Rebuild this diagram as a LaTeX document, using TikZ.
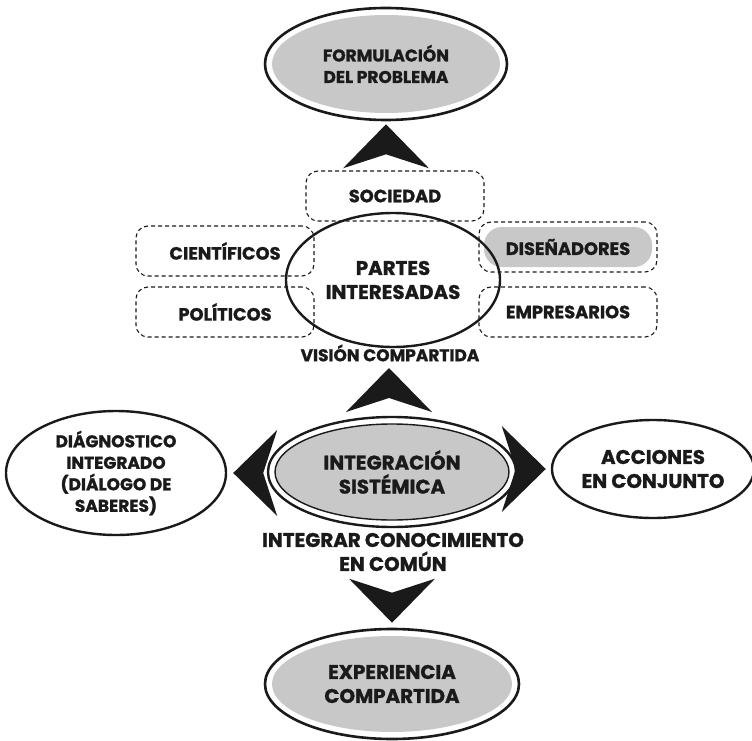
\documentclass[tikz,border=0pt]{standalone}
\usepackage{fontspec}
\setmainfont{Poppins}[BoldFeatures={FakeBold=1.2}]
\usetikzlibrary{shapes.geometric}
\definecolor{fillGray}{RGB}{200,200,200}
\definecolor{inkBlack}{RGB}{26,26,26}

\begin{document}
\begin{tikzpicture}
[x=1pt,y=-1pt,
  textDecorate/.style={font=\fontsize{17}{21.5}\selectfont\bfseries,text=inkBlack,align=center},
  bigText/.style={font=\fontsize{19.8}{24}\selectfont\bfseries},
  ringDecorate/.style={shape=ellipse,draw=inkBlack,line width=2.6pt,fill=white,inner sep=0pt},
  coreDecorate/.style={shape=ellipse,fill=fillGray,inner sep=0pt,textDecorate},
  ellipseDecorate/.style={shape=ellipse,draw=inkBlack,line width=2.4pt,inner sep=0pt,textDecorate},
  boxDecorate/.style={shape=rectangle,draw=inkBlack,dash pattern=on 4pt off 3pt,line width=1.1pt,
    rounded corners=12pt,minimum width=178pt,minimum height=50pt,textDecorate,
    font=\fontsize{17.8}{21}\selectfont\bfseries},
  chevron/.pic={\fill[inkBlack] (0,0) -- (43,44) -- (0,30) -- (-43,44) -- cycle;}]
\useasboundingbox (0,0) rectangle (752,741);
%% dashed boxes
\node (disenadoresFill) at (568,247) [fill=fillGray,rounded corners=18pt,
  minimum width=168pt,minimum height=40pt] {};
\foreach \nodename/\x/\y/\boxtext in {
  sociedad/395/196/SOCIEDAD, cientificos/225/251/CIENTÍFICOS,
  politicos/225/312/POLÍTICOS, disenadores/568/247/DISEÑADORES,
  empresarios/568/312/EMPRESARIOS}
{
  \node (\nodename) at (\x,\y) [boxDecorate] {\boxtext};
}
%% ellipses
\node (formulacionRing) at (386,64) [ringDecorate,minimum width=242pt,minimum height=112pt] {};
\node (formulacion) at (formulacionRing) [coreDecorate,minimum width=228pt,minimum height=98pt]
  {FORMULACIÓN\\DEL PROBLEMA};
\node (partes) at (393,280) [ellipseDecorate,bigText,minimum width=214pt,minimum height=134pt]
  {PARTES\\INTERESADAS};
\node (integracionRing) at (392,472) [ringDecorate,line width=2.4pt,minimum width=248pt,minimum height=110pt] {};
\node (integracion) at (integracionRing) [coreDecorate,bigText,draw=inkBlack,line width=1.4pt,
  minimum width=234pt,minimum height=96pt] {INTEGRACIÓN\\SISTÉMICA};
\node (diagnostico) at (116,473) [ellipseDecorate,minimum width=220pt,minimum height=124pt]
  {DIÁGNOSTICO\\INTEGRADO\\(DIÁLOGO DE\\SABERES)};
\node (acciones) at (653,469) [ellipseDecorate,bigText,minimum width=196pt,minimum height=98pt]
  {ACCIONES\\EN CONJUNTO};
\node (experienciaRing) at (392,684) [ringDecorate,minimum width=254pt,minimum height=110pt] {};
\node (experiencia) at (experienciaRing) [coreDecorate,bigText,minimum width=240pt,minimum height=96pt]
  {EXPERIENCIA\\COMPARTIDA};
%% free labels
\node (vision) at (390,353) [textDecorate] {VISIÓN COMPARTIDA};
\node (integrar) at (393,552) [textDecorate,bigText] {INTEGRAR CONOCIMIENTO\\EN COMÚN};
%% chevrons
\pic at ([yshift=-3pt]formulacionRing.south) {chevron};
\pic at (389,368) {chevron};
\pic[rotate=180] at ([yshift=5pt]experienciaRing.north) {chevron};
\pic[rotate=90] at ([xshift=6pt]diagnostico.east) {chevron};
\pic[rotate=-90] at ([xshift=-5pt]acciones.west) {chevron};
\end{tikzpicture}
\end{document}
